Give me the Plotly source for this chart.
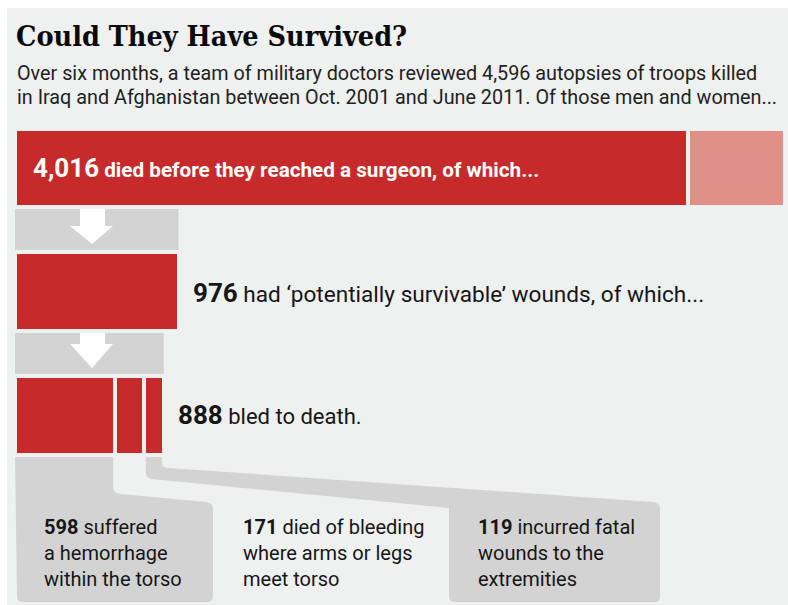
import plotly.graph_objects as go

# --- data -------------------------------------------------------------
total_autopsies = 4596
died_before_surgeon = 4016
potentially_survivable = 976
bled_to_death = 888
bleed_parts = [598, 171, 119]
bleed_part_lines = [
    ["suffered", "a hemorrhage", "within the torso"],
    ["died of bleeding", "where arms or legs", "meet torso"],
    ["incurred fatal", "wounds to the", "extremities"],
]
title = "Could They Have Survived?"
subtitle = [
    "Over six months, a team of military doctors reviewed 4,596 autopsies of troops killed",
    "in Iraq and Afghanistan between Oct. 2001 and June 2011. Of those men and women...",
]

# --- geometry / style --------------------------------------------------
W, H = 788, 605
X0 = 15                      # pixel position of value 0
K = 770 / total_autopsies    # pixels per person
BG = "#eff0f0"
RED = "#c62a2a"
PINK = "#df9187"
GRAY = "#d3d3d3"
INK = "#161616"
SANS = "Roboto, 'Noto Sans', sans-serif"


def px(v):
    return X0 + v * K


def pxp(x):
    return x / W


rows = {"r1": (129, 207), "r2": (252, 331), "r3": (376, 455)}

seg_vals, seg_base, seg_y, seg_w, seg_col = [], [], [], [], []


def add_seg(val, base, row, col):
    y0, y1 = rows[row]
    seg_vals.append(val)
    seg_base.append(base)
    seg_y.append((y0 + y1) / 2)
    seg_w.append(y1 - y0)
    seg_col.append(col)


add_seg(died_before_surgeon, 0, "r1", RED)
add_seg(total_autopsies - died_before_surgeon, died_before_surgeon, "r1", PINK)
add_seg(potentially_survivable, 0, "r2", RED)
cum = 0
for v in bleed_parts:
    add_seg(v, cum, "r3", RED)
    cum += v

fig = go.Figure()
fig.add_trace(go.Bar(
    orientation="h", x=seg_vals, base=seg_base, y=seg_y, width=seg_w,
    marker=dict(color=seg_col, line=dict(color=BG, width=4)),
    hoverinfo="skip", showlegend=False,
))

shapes = []
# panel background
shapes.append(dict(type="rect", xref="paper", yref="y", x0=pxp(7), x1=1,
                   y0=8, y1=H, fillcolor=BG, line_width=0, layer="below"))


# grey bands with a white down-arrow between rows
def arrow_band(val, y0, y1, head_y):
    x1 = px(val)
    shapes.append(dict(type="rect", xref="paper", yref="y", x0=pxp(px(0)), x1=pxp(x1),
                       y0=y0, y1=y1, fillcolor=GRAY, line_width=0, layer="below"))
    cx = 92
    pts = [(cx - 12, y0), (cx + 13, y0), (cx + 13, head_y), (cx + 21, head_y),
           (cx, y1 - 8), (cx - 22, head_y), (cx - 12, head_y)]
    d = "M " + " L ".join(f"{pxp(x)},{y}" for x, y in pts) + " Z"
    shapes.append(dict(type="path", xref="paper", yref="y", path=d,
                       fillcolor="white", line_width=0, layer="below"))


arrow_band(potentially_survivable, rows["r1"][1], rows["r2"][0], 226)
arrow_band(bled_to_death, rows["r2"][1], rows["r3"][0], 344)

# connectors from the bleeding segments to their boxes
top = rows["r3"][1] - 2
e1 = px(bleed_parts[0]) - 2
box1 = (17, 213, 503, 602)
d1 = (f"M {pxp(px(0))},{top} L {pxp(e1)},{top} L {pxp(e1)},487 "
      f"Q {pxp(e1)},493 {pxp(e1 + 7)},494 L {pxp(box1[1] - 7)},502 "
      f"Q {pxp(box1[1])},503 {pxp(box1[1])},509 L {pxp(box1[1])},{box1[3] - 6} "
      f"Q {pxp(box1[1])},{box1[3]} {pxp(box1[1] - 6)},{box1[3]} L {pxp(box1[0] + 6)},{box1[3]} "
      f"Q {pxp(box1[0])},{box1[3]} {pxp(box1[0])},{box1[3] - 6} Z")
shapes.append(dict(type="path", xref="paper", yref="y", path=d1,
                   fillcolor=GRAY, line_width=0, layer="below"))

s3 = px(bleed_parts[0] + bleed_parts[1]) + 2
e3 = px(sum(bleed_parts)) - 2
box3 = (449, 660, 503, 602)
d3 = (f"M {pxp(s3)},{top} L {pxp(e3)},{top} L {pxp(e3)},463 "
      f"Q {pxp(e3)},468 {pxp(e3 + 7)},468 L {pxp(box3[1] - 7)},502 "
      f"Q {pxp(box3[1])},503 {pxp(box3[1])},509 L {pxp(box3[1])},{box3[3] - 6} "
      f"Q {pxp(box3[1])},{box3[3]} {pxp(box3[1] - 6)},{box3[3]} L {pxp(box3[0] + 6)},{box3[3]} "
      f"Q {pxp(box3[0])},{box3[3]} {pxp(box3[0])},{box3[3] - 6} L {pxp(box3[0])},508 "
      f"L {pxp(s3 + 6)},479 Q {pxp(s3)},478 {pxp(s3)},473 Z")
shapes.append(dict(type="path", xref="paper", yref="y", path=d3,
                   fillcolor=GRAY, line_width=0, layer="below"))

ann = []


def label(x, y, text, size, color=INK, family=SANS):
    ann.append(dict(xref="paper", yref="y", x=pxp(x), y=y, xanchor="left", yanchor="middle",
                    text=text, showarrow=False, font=dict(family=family, size=size, color=color)))


label(14, 36, f"<b>{title}</b>", 28.5, "#0a0a0a", "'DejaVu Serif Condensed', 'DejaVu Serif', serif")
label(15, 73, subtitle[0], 19.8, "#222222")
label(15, 97, subtitle[1], 19.8, "#222222")

label(31, 168, f"<b><span style='font-size:26px'>{died_before_surgeon:,}</span> died before they reached a surgeon, of which...</b>",
      20.7, "white")
label(191, 293, f"<b><span style='font-size:26px'>{potentially_survivable:,}</span></b> had \u2018potentially survivable\u2019 wounds, of which...",
      22.6)
label(176, 415, f"<b><span style='font-size:26px'>{bled_to_death:,}</span></b> bled to death.", 22)

box_x = [42, 241, 476]
for bx, v, lines in zip(box_x, bleed_parts, bleed_part_lines):
    for i, ln in enumerate(lines):
        txt = f"<b>{v:,}</b> {ln}" if i == 0 else ln
        label(bx, 527 + 26 * i, txt, 20)

fig.update_layout(
    width=W, height=H, margin=dict(l=0, r=0, t=0, b=0),
    paper_bgcolor="white", plot_bgcolor="rgba(0,0,0,0)",
    barmode="overlay", bargap=0,
    xaxis=dict(range=[-X0 / K, (W - X0) / K], visible=False, fixedrange=True),
    yaxis=dict(range=[H, 0], visible=False, fixedrange=True),
    shapes=shapes, annotations=ann, showlegend=False,
)
fig.write_html("out.html")
